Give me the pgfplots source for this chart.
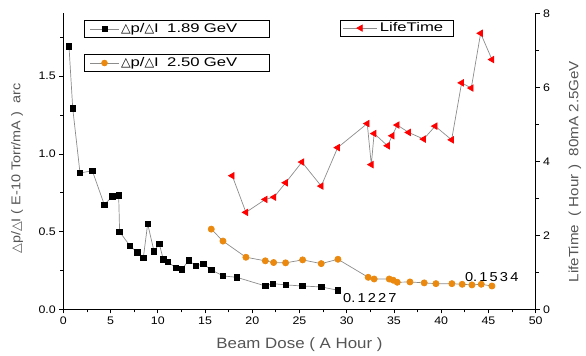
\documentclass[border=0pt]{standalone}
\usepackage{pgfplots}
\pgfplotsset{compat=1.18}
\usepackage{fontspec}
\setmainfont[FakeStretch=1.13]{Liberation Sans}
\newfontfamily\legfont[FakeStretch=1.33]{Liberation Sans}
\newfontfamily\djv{DejaVu Sans}
\definecolor{orng}{RGB}{235,137,15}
\definecolor{lgray}{RGB}{140,140,140}
\definecolor{lblgray}{RGB}{85,85,85}
\newcommand{\dtri}{{\djv\symbol{"25B3}}}
\begin{document}
\begin{tikzpicture}
\pgfplotsset{
  common/.style={
    scale only axis, width=472.4bp, height=296bp,
    xmin=0, xmax=50, ymin=0, ymax=1.905,
    /pgf/number format/assume math mode=true,
    tick label style={font=\fontsize{11}{12}\selectfont},
    legend cell align=left,
    legend style={draw=black, line width=0.6pt, inner ysep=1pt, inner xsep=6pt, outer sep=0pt,
      font=\legfont\fontsize{12.6}{14}\selectfont, row sep=0pt,
      /tikz/every even column/.append style={column sep=12pt}},
  },
}
% axis 1 : black squares, left axis and x axis
\begin{axis}[common,
  axis x line*=bottom, axis y line*=left,
  axis line style={line width=0.9pt},
  xtick={0,5,...,50}, minor xtick={2.5,7.5,...,47.5},
  ytick={0,0.5,1.0,1.5}, minor ytick={0.25,0.75,1.25,1.75},
  yticklabel style={/pgf/number format/fixed, /pgf/number format/fixed zerofill, /pgf/number format/precision=1},
  tick align=outside, major tick length=4pt, minor tick length=3pt,
  tick style={line width=0.8pt, black},
  xlabel={\textcolor{lblgray}{Beam Dose ( A Hour )}},
  xlabel style={font=\fontsize{15}{17}\selectfont, at={(axis description cs:0.5,-0.121)}, anchor=center},
  ylabel={\textcolor{lblgray}{\dtri p/\dtri I ( E-10 Torr/mA )\ \ arc}},
  ylabel style={font=\fontsize{12.8}{15}\selectfont, at={(axis description cs:-0.098,0.475)}, anchor=center, rotate=0},
  legend style={at={(0.0438,0.975)}, anchor=north west, text width=141pt},
  legend image code/.code={
     \draw[lgray, line width=0.7pt] (0cm,0cm) -- (1.0cm,0cm);
     \draw[black, fill=black, mark size=2.6pt] plot[mark=square*] coordinates {(0.5cm,0cm)};},
]
\addplot[lgray, line width=0.7pt, mark=square*, mark size=2.8pt, mark options={black, fill=black}]
coordinates {
(0.6,1.694) (1.0,1.292) (1.77,0.877) (3.07,0.892) (4.34,0.673) (5.2,0.727) (5.86,0.735)
(5.96,0.499) (7.06,0.408) (7.83,0.365) (8.47,0.331) (8.93,0.55) (9.6,0.374) (10.16,0.421)
(10.58,0.322) (11.05,0.305) (11.93,0.266) (12.56,0.258) (13.27,0.314) (14.04,0.279)
(14.8,0.292) (15.66,0.254) (16.9,0.215) (18.35,0.206) (21.4,0.150) (22.2,0.165)
(23.55,0.157) (25.3,0.150) (27.3,0.144) (29.07,0.1227)
};
\addlegendentry{\dtri p/\dtri I\ \ 1.89 GeV}
\node[anchor=west, font=\fontsize{13}{15}\selectfont, inner sep=0pt] at (axis cs:29.6,0.075) {0.\,1\,2\,2\,7};
\node[anchor=west, font=\fontsize{13}{15}\selectfont, inner sep=0pt] at (axis cs:42.5,0.21) {0.\,1\,5\,3\,4};
\end{axis}
% axis 2 : orange circles
\begin{axis}[common, hide axis,
  legend style={at={(0.0438,0.860)}, anchor=north west, text width=141pt},
  legend image code/.code={
     \draw[lgray, line width=0.7pt] (0cm,0cm) -- (1.0cm,0cm);
     \fill[orng] (0.5cm,0cm) circle (2.9pt);},
]
\addplot[lgray, line width=0.7pt, mark=*, mark size=3.1pt, mark options={orng, fill=orng, draw=orng}]
coordinates {
(15.66,0.516) (16.9,0.439) (19.33,0.335) (21.38,0.312) (22.26,0.301) (23.53,0.299)
(25.33,0.318) (27.3,0.294) (29.07,0.322) (32.27,0.206) (32.9,0.195) (34.5,0.195)
(34.92,0.187) (35.35,0.174) (36.69,0.176) (38.2,0.170) (39.44,0.165) (41.13,0.165)
(42.22,0.161) (43.25,0.157) (44.24,0.161) (45.37,0.150)
};
\addlegendentry{\dtri p/\dtri I\ \ 2.50 GeV}
\end{axis}
% axis 3 : red triangles on right axis
\begin{axis}[common, ymin=0, ymax=8,
  axis x line=none, axis y line*=right,
  axis line style={line width=0.9pt},
  ytick={0,2,4,6,8}, minor ytick={1,3,5,7},
  tick align=outside, major tick length=4pt, minor tick length=3pt,
  tick style={line width=0.8pt, black},
  ylabel={\textcolor{lblgray}{LifeTime\ \ ( Hour )\ \ 80mA 2.5GeV}},
  ylabel style={font=\fontsize{13.5}{15}\selectfont, at={(axis description cs:1.083,0.465)}, anchor=center, rotate=0},
  legend style={at={(0.586,0.978)}, anchor=north west, text width=69pt, inner xsep=3pt,
     /tikz/every even column/.append style={column sep=8pt}},
  legend image code/.code={
     \draw[lgray, line width=0.7pt] (0cm,0cm) -- (1.2cm,0cm);
     \fill[red] (0.6cm,0cm) ++(-3.6pt,0pt) -- ++(5.4pt,3.1pt) -- ++(0pt,-6.2pt) -- cycle;},
]
\addplot[lgray, line width=0.7pt, mark=triangle*, mark size=3.7pt, mark options={red, fill=red, draw=red, rotate=90}]
coordinates {
(17.88,3.61) (19.33,2.62) (21.38,2.97) (22.3,3.03) (23.53,3.42) (25.26,3.98) (27.3,3.33)
(29.04,4.37) (32.17,5.02) (32.6,3.91) (32.9,4.75) (34.32,4.42) (34.81,4.69) (35.35,4.98)
(36.55,4.78) (38.14,4.60) (39.36,4.95) (41.1,4.58) (42.16,6.12) (43.18,5.98) (44.17,7.46)
(45.37,6.75)
};
\addlegendentry{LifeTime}
\end{axis}
\path[use as bounding box] (-63.3bp,-46.7bp) rectangle (522.7bp,309.3bp);
\end{tikzpicture}
\end{document}
